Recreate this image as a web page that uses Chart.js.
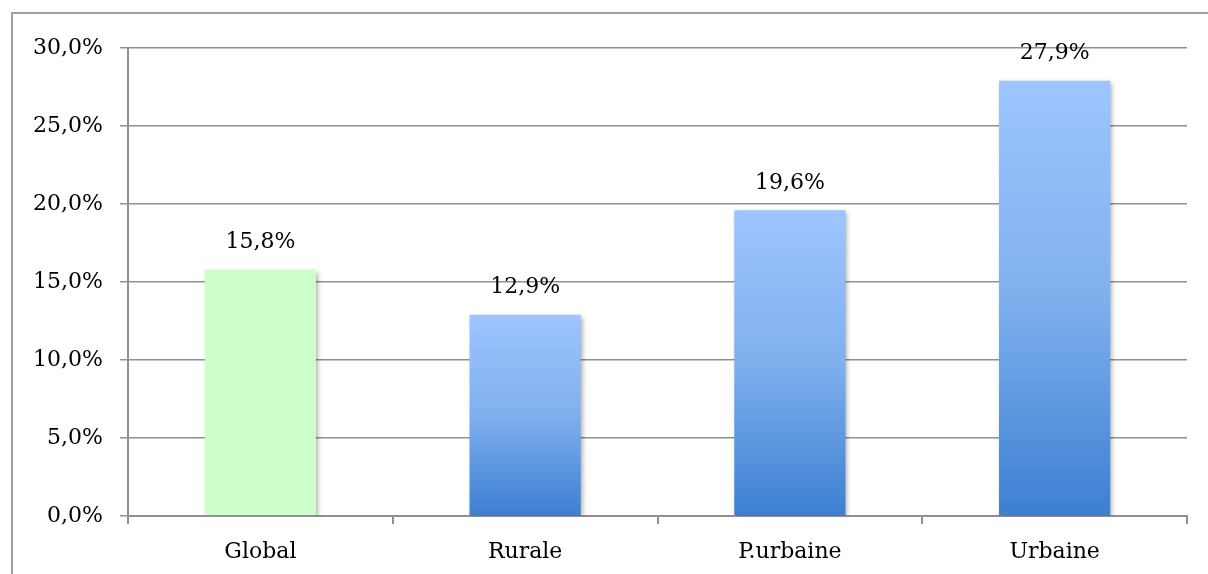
<!DOCTYPE html>
<html>
<head>
<meta charset="utf-8">
<script src="https://cdn.jsdelivr.net/npm/chart.js@4/dist/chart.umd.min.js"></script>
<style>
  html, body { margin: 0; padding: 0; background: #fff; overflow: hidden; }
  #wrap { width: 1208px; height: 574px; position: relative; }
  canvas { display: block; }
</style>
</head>
<body>
<div id="wrap"><canvas id="c" width="1208" height="574"></canvas></div>
<script>
const categories = ['Global', 'Rurale', 'P.urbaine', 'Urbaine'];
const values = [15.8, 12.9, 19.6, 27.9];
const yTicks = [0, 5, 10, 15, 20, 25, 30];

const FONT = '"DejaVu Serif", serif';
const FSIZE = 22;
const fmt = v => v.toFixed(1).replace('.', ',') + '%';

function barFill(context) {
  const chart = context.chart;
  const i = context.dataIndex;
  if (i === 0) return '#ccffcc';
  const y = chart.scales.y;
  if (!y || !chart.chartArea) return '#7fb0ee';
  const top = y.getPixelForValue(values[i]);
  const base = y.getPixelForValue(0);
  if (!isFinite(top) || !isFinite(base)) return '#7fb0ee';
  const g = chart.ctx.createLinearGradient(0, top, 0, base);
  g.addColorStop(0, '#9ec5ff');
  g.addColorStop(0.5, '#7fb0ee');
  g.addColorStop(1, '#3c7fd2');
  return g;
}

const framePlugin = {
  id: 'frame',
  beforeDraw(chart) {
    const ctx = chart.ctx;
    ctx.save();
    ctx.fillStyle = '#a0a0a0';
    ctx.fillRect(11, 12, 1208 - 11, 2);
    ctx.fillRect(11, 12, 2, 574 - 12);
    ctx.restore();
  }
};

const shadowPlugin = {
  id: 'barShadow',
  beforeDatasetDraw(chart) {
    const ctx = chart.ctx;
    ctx.save();
    ctx.shadowColor = 'rgba(0,0,0,0.35)';
    ctx.shadowBlur = 5;
    ctx.shadowOffsetX = 2;
    ctx.shadowOffsetY = 2;
  },
  afterDatasetDraw(chart) {
    chart.ctx.restore();
  }
};

const labelPlugin = {
  id: 'valueLabels',
  afterDatasetsDraw(chart) {
    const ctx = chart.ctx;
    const meta = chart.getDatasetMeta(0);
    ctx.save();
    ctx.font = FSIZE + 'px ' + FONT;
    ctx.fillStyle = '#000';
    ctx.textAlign = 'center';
    ctx.textBaseline = 'middle';
    meta.data.forEach((bar, i) => {
      ctx.fillText(fmt(values[i]), bar.x, bar.y - 27);
    });
    ctx.restore();
  }
};

new Chart(document.getElementById('c'), {
  type: 'bar',
  data: {
    labels: categories,
    datasets: [{
      data: values,
      backgroundColor: barFill,
      borderWidth: 0,
      barPercentage: 0.42,
      categoryPercentage: 1.0
    }]
  },
  options: {
    responsive: false,
    animation: false,
    devicePixelRatio: 1,
    layout: { padding: { top: 48, right: 21, left: 0, bottom: 0 } },
    plugins: {
      legend: { display: false },
      tooltip: { enabled: false }
    },
    scales: {
      x: {
        offset: true,
        grid: {
          display: true,
          offset: true,
          drawOnChartArea: false,
          drawTicks: true,
          tickLength: 8,
          color: '#909090',
          lineWidth: 2
        },
        border: { display: true, color: '#909090', width: 2 },
        ticks: {
          color: '#000',
          font: { family: FONT, size: FSIZE },
          padding: 15
        },
        afterFit(scale) { scale.height = 58; }
      },
      y: {
        min: 0,
        max: 30,
        afterBuildTicks(scale) {
          scale.ticks = yTicks.map(v => ({ value: v }));
        },
        grid: {
          color: '#909090',
          lineWidth: 1.5,
          tickLength: 8
        },
        border: { display: true, color: '#909090', width: 2 },
        ticks: {
          color: '#000',
          font: { family: FONT, size: FSIZE },
          padding: 17,
          callback: v => fmt(v)
        },
        afterFit(scale) { scale.width = 128; }
      }
    }
  },
  plugins: [framePlugin, shadowPlugin, labelPlugin]
});
</script>
</body>
</html>
